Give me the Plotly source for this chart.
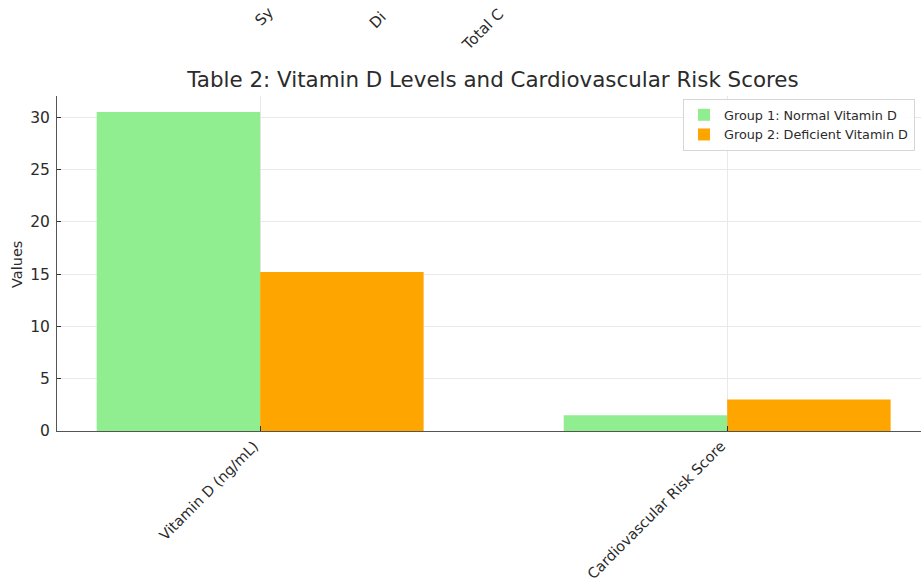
import plotly.graph_objects as go

# Study groups and measured outcomes
categories = ["Vitamin D (ng/mL)", "Cardiovascular Risk Score"]
group1_label = "Group 1: Normal Vitamin D"
group2_label = "Group 2: Deficient Vitamin D"
group1_values = [30.5, 1.5]
group2_values = [15.2, 3.0]
y_ticks = [0, 5, 10, 15, 20, 25, 30]

# Partial tick labels of the figure above (cut off at the top edge)
upper_labels = ["Sy", "Di", "Total C"]

W, H = 921, 583
L, R, T, B = 57, 0, 96, 152
plot_w = W - L - R
plot_h = H - T - B

FONT = "DejaVu Sans"
TXT = "#2b2b2b"

fig = go.Figure()
fig.add_trace(go.Bar(x=categories, y=group1_values, name=group1_label,
                     marker=dict(color="#90EE90", line=dict(width=0))))
fig.add_trace(go.Bar(x=categories, y=group2_values, name=group2_label,
                     marker=dict(color="#FFA500", line=dict(width=0))))


def px_to_paper(px, py):
    return (px - L) / plot_w, (H - B - py) / plot_h


annotations = []
# Rotated labels at the top edge
for text, (px, py) in zip(upper_labels, [(249, 32), (363, 35), (455, 57)]):
    ax, ay = px_to_paper(px, py)
    annotations.append(dict(text=text, xref="paper", yref="paper", x=ax, y=ay,
                            xanchor="left", yanchor="bottom", textangle=-45,
                            showarrow=False,
                            font=dict(family=FONT, size=15, color=TXT)))
# Y-axis label
vx, vy = px_to_paper(17, 265)
annotations.append(dict(text="Values", xref="paper", yref="paper", x=vx, y=vy,
                        xanchor="center", yanchor="middle", textangle=-90,
                        showarrow=False,
                        font=dict(family=FONT, size=14.5, color=TXT)))

lx, ly = px_to_paper(683, 99)

fig.update_layout(
    width=W, height=H,
    margin=dict(l=L, r=R, t=T, b=B, autoexpand=False),
    paper_bgcolor="white", plot_bgcolor="white",
    font=dict(family=FONT, color=TXT),
    barmode="group", bargap=0.3, bargroupgap=0,
    title=dict(text="Table 2: Vitamin D Levels and Cardiovascular Risk Scores",
               xref="container", yref="container",
               x=493 / W, y=1 - 80 / H, xanchor="center", yanchor="middle",
               font=dict(family=FONT, size=21.4, color=TXT)),
    legend=dict(x=lx, y=ly, xanchor="left", yanchor="top",
                bgcolor="rgba(255,255,255,0.85)", bordercolor="#d6d6d6",
                borderwidth=1, font=dict(family=FONT, size=12.8, color=TXT),
                tracegroupgap=0),
    annotations=annotations,
    xaxis=dict(range=[-0.435, 1.415], showgrid=True, gridcolor="#e9e9e9",
               gridwidth=1, showline=True, linecolor="#555555", linewidth=1,
               ticks="inside", ticklen=5, tickcolor="#333333", tickangle=-45,
               ticklabelstandoff=0, ticklabelshift=-6,
               tickfont=dict(family=FONT, size=14.5, color=TXT),
               zeroline=False, automargin=False),
    yaxis=dict(range=[0, 32.03], tickvals=y_ticks, showgrid=True,
               gridcolor="#e9e9e9", gridwidth=1, showline=True,
               linecolor="#555555", linewidth=1, ticks="inside", ticklen=4,
               tickcolor="#333333", ticklabelstandoff=3,
               tickfont=dict(family=FONT, size=15.5, color=TXT),
               zeroline=False, automargin=False),
)

fig.write_html("out.html")
